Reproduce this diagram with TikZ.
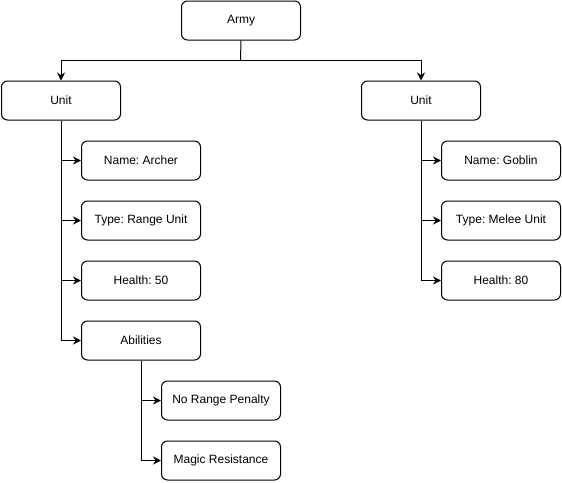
\documentclass[tikz,border=0pt]{standalone}
\usepackage{fontspec}
\setmainfont{Liberation Sans}
\usetikzlibrary{arrows.meta}
\frenchspacing
\begin{document}
\begin{tikzpicture}[x=1pt,y=-1pt,
  box/.style={draw,line width=1pt,rounded corners=6pt,minimum width=119pt,minimum height=39pt,inner sep=0pt,font=\fontsize{12}{14}\selectfont,anchor=north west},
  conn/.style={line width=1pt},
  arr/.style={line width=1pt,-{Stealth[length=8pt,width=8pt]}}]
\useasboundingbox (0,0) rectangle (562,482);
\node[box] (army) at (181,0.5) {Army};
\node[box] (u1) at (1,80.5) {Unit};
\node[box] (u2) at (361,80.5) {Unit};
\node[box] (n1) at (81,140.5) {Name: Archer};
\node[box] (t1) at (81,200.5) {Type: Range Unit};
\node[box] (h1) at (81,260.5) {Health: 50};
\node[box] (ab) at (81,320.5) {Abilities};
\node[box] (nr) at (161,380.5) {No Range Penalty};
\node[box] (mr) at (161,440.5) {Magic Resistance};
\node[box] (n2) at (441,140.5) {Name: Goblin};
\node[box] (t2) at (441,200.5) {Type: Melee Unit};
\node[box] (h2) at (441,260.5) {Health: 80};
\coordinate (j) at (240.5,60);
\draw[conn] (army.south) -- (j);
\draw[arr] (j) -| (u1.north);
\draw[arr] (j) -| (u2.north);
\foreach \t in {n1,t1,h1,ab} \draw[arr] (u1.south) |- (\t.west);
\foreach \t in {n2,t2,h2} \draw[arr] (u2.south) |- (\t.west);
\foreach \t in {nr,mr} \draw[arr] (ab.south) |- (\t.west);
\end{tikzpicture}
\end{document}
